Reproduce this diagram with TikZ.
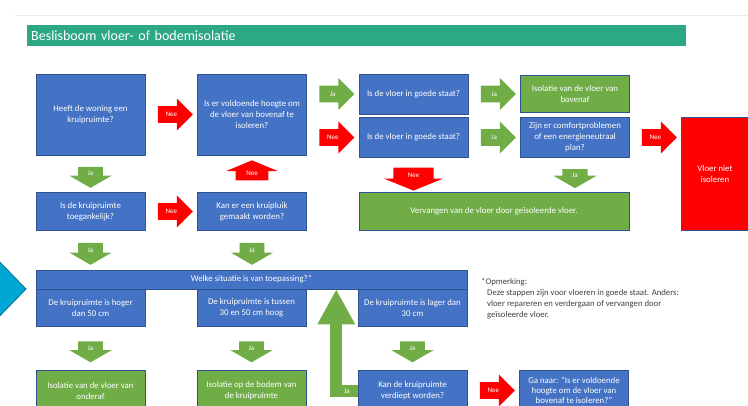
\documentclass[tikz,border=0pt]{standalone}
\usepackage{fontspec}
\setmainfont{Carlito}
\usepackage{xcolor}
\usetikzlibrary{positioning, calc, shapes.arrows, arrows.meta}

\definecolor{vakblauw}{HTML}{4472C4}
\definecolor{vakgroen}{HTML}{70AD47}
\definecolor{vakrood}{HTML}{FF0000}
\definecolor{vaklijn}{HTML}{2F528F}
\definecolor{titelgroen}{HTML}{2DA884}
\definecolor{pijlblauw}{HTML}{00A6D3}
\definecolor{pijlrand}{HTML}{00728F}
\definecolor{notitie}{HTML}{404040}

\newcommand{\vakfont}{\fontsize{8.8}{11}\selectfont}
\newcommand{\pijlfont}{\fontsize{7}{7}\selectfont}

\tikzset{
  vak/.style={draw=vaklijn, line width=0.5pt, text=white, align=center,
    font=\vakfont, minimum width=109pt, inner sep=1pt},
  vraagvak/.style={vak, fill=vakblauw},
  actievak/.style={vak, fill=vakgroen},
  haltvak/.style={vak, fill=vakrood},
  pijl/.style={single arrow, inner sep=0pt, text=white, font=\pijlfont},
  pijltekst/.style={text=white, font=\pijlfont, inner sep=0pt},
  naarrechts/.style={pijl, minimum height=35pt, minimum width=32pt, inner sep=7.5pt},
  naaronder/.style={pijl, shape border rotate=270, minimum height=21pt,
    minimum width=42pt, inner ysep=0pt, inner xsep=10pt, single arrow tip angle=120},
  ja/.style={fill=vakgroen, label={[pijltekst]center:Ja}},
  nee/.style={fill=vakrood, label={[pijltekst]center:Nee}},
}

\begin{document}
\begin{tikzpicture}[x=1pt, y=-1pt]
\useasboundingbox (0,0) rectangle (748,405);

% kop
\draw[black!8] (15,15) -- (748,15);
\node[fill=titelgroen, anchor=north west, text width=651pt, align=left,
  minimum height=21pt, inner xsep=4pt, text=white, font=\fontsize{14}{14}\selectfont]
  (titel) at (27,25) {Beslisboom vloer- of bodemisolatie};

% blauwe punt links
\filldraw[fill=pijlblauw, draw=pijlrand, line width=0.8pt]
  (-10,252) -- (26,289) -- (-10,326) -- cycle;

% rij 1
\node[vraagvak, minimum height=81pt] (woning) at (90.5,114.5) {Heeft de woning een\\kruipruimte?};
\node[vraagvak, minimum height=81pt, right=52pt of woning] (hoogte)
  {Is er voldoende hoogte om\\de vloer van bovenaf te\\isoleren?};
\node[vraagvak, minimum height=40pt, right=52pt of hoogte.north east, anchor=north west] (staat1)
  {Is de vloer in goede staat?};
\node[vraagvak, minimum height=40pt, below=3pt of staat1] (staat2) {Is de vloer in goede staat?};
\node[actievak, minimum height=37pt, right=52pt of staat1] (bovenaf) {Isolatie van de vloer van\\bovenaf};
\node[vraagvak, minimum height=40pt, right=52pt of staat2] (comfort)
  {Zijn er comfortproblemen\\of een energieneutraal\\plan?};
\node[haltvak, minimum width=68pt, minimum height=113pt, right=51pt of comfort.north east,
  anchor=north west] (niet) {Vloer niet\\isoleren};

% rij 2
\node[vraagvak, minimum height=38pt, below=37pt of woning] (toegang) {Is de kruipruimte\\toegankelijk?};
\node[vraagvak, minimum height=38pt, right=52pt of toegang] (kruipluik) {Kan er een kruipluik\\gemaakt worden?};
\node[actievak, minimum height=38pt, minimum width=270pt, right=52pt of kruipluik] (vervangen)
  {Vervangen van de vloer door geïsoleerde vloer.};

% rij 3
\node[vraagvak, minimum height=19pt, minimum width=431pt, below=39pt of toegang.south west,
  anchor=north west] (situatie) {Welke situatie is van toepassing?*};
\node[vraagvak, minimum height=37pt, anchor=north west] (hoger) at (situatie.south west)
  {De kruipruimte is hoger\\dan 50 cm};
\node[vraagvak, minimum height=37pt, anchor=north] (tussen) at (situatie.south)
  {De kruipruimte is tussen\\30 en 50 cm hoog};
\node[vraagvak, minimum height=37pt, anchor=north east] (lager) at (situatie.south east)
  {De kruipruimte is lager dan\\30 cm};

% rij 4
\node[actievak, minimum height=42pt, below=43pt of hoger] (onderaf) {Isolatie van de vloer van\\onderaf};
\node[actievak, minimum height=42pt, below=43pt of tussen] (bodem) {Isolatie op de bodem van\\de kruipruimte};
\node[vraagvak, minimum height=42pt, below=43pt of lager] (verdiept) {Kan de kruipruimte\\verdiept worden?};
\node[vraagvak, minimum height=40pt, right=52pt of verdiept.north east, anchor=north west,
  font=\fontsize{8.8}{10}\selectfont] (ganaar)
  {Ga naar: ``Is er voldoende\\hoogte om de vloer van\\bovenaf te isoleren?''};

% opmerking
\node[anchor=north west, align=left, inner sep=0pt, text=notitie,
  font=\fontsize{8.7}{11}\selectfont] (opmerking) at (481,278)
  {*Opmerking:\\
   \hspace*{6pt}Deze stappen zijn voor vloeren in goede staat. Anders:\\
   \hspace*{6pt}vloer repareren en verdergaan of vervangen door\\
   \hspace*{6pt}geïsoleerde vloer.};

% pijlen
\node[naarrechts, nee] (p1) at ($(woning.east)!.5!(hoogte.west)$) {};
\node[naarrechts, ja] (p2) at ($(hoogte.east |- staat1.west)!.5!(staat1.west)$) {};
\node[naarrechts, nee] (p3) at ($(hoogte.east |- staat2.west)!.5!(staat2.west)$) {};
\node[naarrechts, ja] (p4) at ($(staat1.east)!.5!(bovenaf.west)$) {};
\node[naarrechts, ja] (p5) at ($(staat2.east)!.5!(comfort.west)$) {};
\node[naarrechts, nee] (p6) at ($(comfort.east)!.5!(comfort.east -| niet.west)$) {};
\node[naaronder, nee, minimum width=59pt, minimum height=23pt, inner xsep=15pt,
  single arrow tip angle=136] (p7) at ($(staat2.south)!.5!(staat2.south |- vervangen.north)$) {};
\node[naaronder, ja, minimum width=43pt, minimum height=19pt] (p8)
  at ($(comfort.south)!.5!(comfort.south |- vervangen.north)$) {};
\node[naaronder, ja] (p9) at ($(woning.south)!.5!(toegang.north)$) {};
\node[naaronder, nee, shape border rotate=90, minimum width=52pt, minimum height=20pt,
  inner xsep=12pt, single arrow tip angle=135] (p10) at ($(kruipluik.north)!.5!(hoogte.south)$) {};
\node[naarrechts, nee] (p11) at ($(toegang.east)!.5!(kruipluik.west)$) {};
\node[naaronder, ja, minimum height=22pt] (p12) at ($(toegang.south)!.5!(toegang.south |- situatie.north)$) {};
\node[naaronder, ja, minimum height=22pt] (p13) at ($(kruipluik.south)!.5!(kruipluik.south |- situatie.north)$) {};
\node[naaronder, ja] (p14) at ($(hoger.south)!.5!(onderaf.north)$) {};
\node[naaronder, ja] (p15) at ($(tussen.south)!.5!(bodem.north)$) {};
\node[naaronder, ja] (p16) at ($(lager.south)!.5!(verdiept.north)$) {};
\node[naarrechts, nee] (p17) at ($(verdiept.east)!.5!(ganaar.west)$) {};

% terug naar de situatie
\coordinate (hoek) at ($(verdiept.west) + (-21.5,0)$);
\draw[vakgroen, line width=12pt, line join=miter,
  -{Triangle[length=35pt, width=35pt]}]
  (verdiept.west) -- node[pijltekst] {Ja} (hoek) -- (hoek |- situatie.south);
\end{tikzpicture}
\end{document}
